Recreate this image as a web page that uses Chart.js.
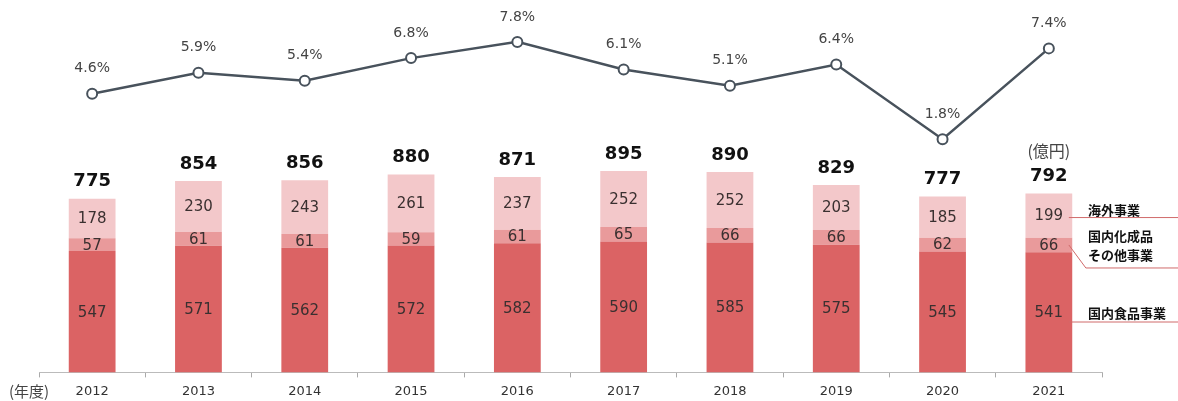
<!DOCTYPE html>
<html>
<head>
<meta charset="utf-8">
<script src="https://cdn.jsdelivr.net/npm/chart.js@4"></script>
<style>
  html, body { margin: 0; padding: 0; background: #fff; }
  #wrap { width: 1178px; height: 401px; }
</style>
</head>
<body>
<div id="wrap"><canvas id="salesChart"></canvas></div>
<script>
// 年度
var years = ['2012', '2013', '2014', '2015', '2016', '2017', '2018', '2019', '2020', '2021'];
// 売上（億円）
var domesticFood = [547, 571, 562, 572, 582, 590, 585, 575, 545, 541];
var chemicalOther = [57, 61, 61, 59, 61, 65, 66, 66, 62, 66];
var overseas = [178, 230, 243, 261, 237, 252, 252, 203, 185, 199];
var totals = [775, 854, 856, 880, 871, 895, 890, 829, 777, 792];
// 利益率（%）
var margins = [4.6, 5.9, 5.4, 6.8, 7.8, 6.1, 5.1, 6.4, 1.8, 7.4];

var numFont = '"DejaVu Sans", Verdana, sans-serif';
var jpFont = '"Noto Sans CJK JP", "Noto Sans", sans-serif';

var labelPlugin = {
    id: 'labels',
    afterDatasetsDraw: function (chart) {
        var ctx = chart.ctx;
        ctx.save();
        ctx.textAlign = 'center';
        ctx.textBaseline = 'middle';

        // segment values
        ctx.fillStyle = '#3a3030';
        ctx.font = '15px ' + numFont;
        [0, 1, 2].forEach(function (di) {
            var meta = chart.getDatasetMeta(di);
            meta.data.forEach(function (bar, i) {
                var v = chart.data.datasets[di].data[i];
                ctx.fillText(v, bar.x, (bar.y + bar.base) / 2 + 1);
            });
        });

        // totals
        ctx.fillStyle = '#111';
        ctx.font = 'bold 18px ' + numFont;
        chart.getDatasetMeta(2).data.forEach(function (bar, i) {
            ctx.fillText(totals[i], bar.x, bar.y - 17);
        });

        // margin labels
        ctx.fillStyle = '#444';
        ctx.font = '14px ' + numFont;
        chart.getDatasetMeta(3).data.forEach(function (pt, i) {
            ctx.fillText(margins[i].toFixed(1) + '%', pt.x, pt.y - 25);
        });

        var area = chart.chartArea;
        var last = years.length - 1;
        var topBar = chart.getDatasetMeta(2).data[last];
        var midBar = chart.getDatasetMeta(1).data[last];

        // unit labels
        ctx.fillStyle = '#444';
        ctx.font = '16px ' + jpFont;
        ctx.fillText('(億円)', topBar.x, topBar.y - 43);
        ctx.font = '15px ' + jpFont;
        ctx.fillText('(年度)', 29, area.bottom + 19);

        // legend connectors
        ctx.strokeStyle = '#d06a6a';
        ctx.lineWidth = 1;
        var x0 = topBar.x + 20;
        var yTop = (topBar.y + topBar.base) / 2 + 2;
        var yMid = (midBar.y + midBar.base) / 2;
        ctx.beginPath();
        ctx.moveTo(x0, yTop);
        ctx.lineTo(1178, yTop);
        ctx.moveTo(x0, yMid);
        ctx.lineTo(x0 + 17, yMid + 23);
        ctx.lineTo(1178, yMid + 23);
        ctx.moveTo(x0, 322);
        ctx.lineTo(1178, 322);
        ctx.stroke();

        ctx.fillStyle = '#111';
        ctx.textAlign = 'left';
        ctx.font = 'bold 13px ' + jpFont;
        ctx.fillText('海外事業', 1088, yTop - 7);
        ctx.fillText('国内化成品', 1088, yMid - 9);
        ctx.fillText('その他事業', 1088, yMid + 10);
        ctx.fillText('国内食品事業', 1088, 313);
        ctx.restore();
    }
};

var ctx = document.getElementById('salesChart').getContext('2d');

var salesChart = new Chart(ctx, {
    data: {
        labels: years,
        datasets: [{
            type: 'bar',
            label: '国内食品事業',
            data: domesticFood,
            backgroundColor: '#db6364',
            stack: 'sales',
            yAxisID: 'y',
            order: 2
        }, {
            type: 'bar',
            label: '国内化成品その他事業',
            data: chemicalOther,
            backgroundColor: '#e99a9b',
            stack: 'sales',
            yAxisID: 'y',
            order: 2
        }, {
            type: 'bar',
            label: '海外事業',
            data: overseas,
            backgroundColor: '#f3c8ca',
            stack: 'sales',
            yAxisID: 'y',
            order: 2
        }, {
            type: 'line',
            label: '利益率',
            data: margins,
            yAxisID: 'y2',
            borderColor: '#48525c',
            borderWidth: 2.5,
            pointRadius: 5,
            pointBorderWidth: 2,
            pointBackgroundColor: '#fff',
            pointBorderColor: '#48525c',
            tension: 0,
            order: 1
        }]
    },
    options: {
        responsive: true,
        maintainAspectRatio: false,
        animation: false,
        layout: {
            padding: { left: 39, right: 76, top: 5, bottom: -4 }
        },
        datasets: {
            bar: {
                categoryPercentage: 1,
                barPercentage: 0.44
            }
        },
        plugins: {
            legend: { display: false },
            tooltip: { enabled: false }
        },
        scales: {
            x: {
                stacked: true,
                offset: true,
                grid: {
                    offset: true,
                    drawOnChartArea: false,
                    drawTicks: true,
                    tickLength: 5,
                    color: '#aaa'
                },
                border: { color: '#bbb' },
                ticks: {
                    color: '#333',
                    padding: 6,
                    font: { family: numFont, size: 13 }
                }
            },
            y: {
                stacked: true,
                display: false,
                min: 0,
                max: 1646
            },
            y2: {
                display: false,
                min: -12.57,
                max: 9.95
            }
        }
    },
    plugins: [labelPlugin]
});
</script>
</body>
</html>
